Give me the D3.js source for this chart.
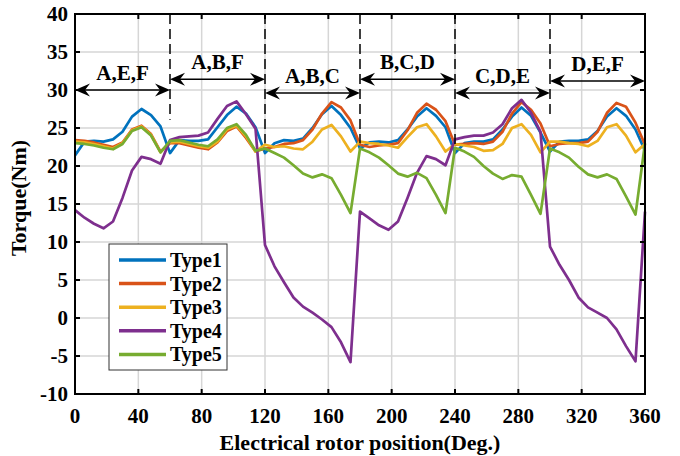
<!DOCTYPE html>
<html>
<head>
<meta charset="utf-8">
<script src="https://cdn.jsdelivr.net/npm/d3@7"></script>
<style>
  html, body { margin: 0; padding: 0; background: #fff; }
  svg { display: block; font-family: "Liberation Serif", "Times New Roman", serif; font-weight: bold; }
</style>
</head>
<body>
<svg id="chart" width="680" height="456"></svg>
<script>
// Rotor position samples (electrical degrees)
const angles = [0, 6, 12, 18, 24, 30, 36, 42, 48, 54, 60, 66, 72, 78, 84, 90, 96, 102, 108, 114, 120,
  126, 132, 138, 144, 150, 156, 162, 168, 174, 180, 186, 192, 198, 204, 210, 216, 222, 228, 234, 240,
  246, 252, 258, 264, 270, 276, 282, 288, 294, 300, 306, 312, 318, 324, 330, 336, 342, 348, 354, 360];

// Torque (Nm) of each winding configuration
const type1 = [21.4, 23.2, 23.3, 23.2, 23.5, 24.5, 26.5, 27.5, 26.7, 25.2, 21.7,
  23.4, 23.3, 23.3, 23.5, 25.1, 26.7, 27.8, 26.9, 25.1, 21.7,
  23.0, 23.4, 23.3, 23.6, 25.0, 26.8, 27.9, 26.7, 25.0, 22.3,
  23.1, 23.2, 23.1, 23.4, 24.8, 26.5, 27.6, 26.6, 25.1, 21.7,
  23.0, 23.2, 23.2, 23.5, 24.8, 26.5, 27.7, 26.6, 24.4, 21.9,
  23.2, 23.3, 23.3, 23.5, 24.6, 26.5, 27.6, 26.6, 24.8, 22.0];
const type2 = [23.4, 23.3, 23.1, 22.8, 22.5, 23.1, 24.8, 25.3, 24.2, 21.9, 23.0,
  23.0, 22.7, 22.4, 22.2, 23.1, 24.6, 25.2, 23.7, 21.9, 22.3,
  22.5, 22.9, 23.0, 23.4, 24.8, 26.9, 28.4, 27.7, 26.0, 22.8,
  22.5, 22.7, 22.8, 23.0, 24.7, 27.0, 28.2, 27.4, 25.9, 22.8,
  22.9, 23.0, 22.9, 23.2, 24.5, 26.9, 28.4, 27.4, 25.6, 22.6,
  22.9, 23.0, 23.0, 23.2, 24.5, 27.0, 28.3, 27.8, 25.7, 22.8];
const type3 = [23.2, 23.1, 22.9, 22.6, 22.3, 23.0, 24.7, 25.2, 24.1, 21.8, 23.1,
  23.2, 22.9, 22.6, 22.4, 23.2, 24.8, 25.3, 23.9, 21.9, 22.8,
  22.5, 22.6, 22.3, 22.2, 23.2, 24.8, 25.4, 23.9, 21.9, 23.2,
  23.0, 22.9, 22.7, 22.4, 23.8, 25.1, 25.5, 23.9, 21.9, 22.9,
  22.7, 22.5, 22.0, 22.1, 22.9, 25.0, 25.5, 24.1, 21.8, 23.2,
  23.2, 23.0, 22.9, 22.6, 23.3, 25.1, 25.5, 24.0, 21.8, 22.9];
const type4 = [14.2, 13.2, 12.4, 11.8, 12.7, 15.8, 19.4, 21.2, 20.9, 20.3, 23.4,
  23.8, 23.9, 24.0, 24.4, 26.2, 27.9, 28.5, 26.8, 24.9, 9.6,
  6.8, 4.7, 2.7, 1.5, 0.7, -0.2, -1.2, -3.2, -5.8, 14.0,
  13.1, 12.2, 11.6, 12.7, 15.8, 19.1, 21.3, 20.9, 20.1, 23.5,
  23.8, 24.0, 24.0, 24.4, 25.5, 27.6, 28.7, 27.0, 24.5, 9.4,
  7.0, 5.0, 2.7, 1.4, 0.7, 0.0, -1.5, -3.7, -5.7, 14.0];
const type5 = [23.0, 22.9, 22.7, 22.4, 22.2, 22.9, 24.6, 25.1, 24.0, 21.8, 23.3,
  23.4, 23.1, 22.8, 22.6, 23.5, 25.0, 25.5, 24.1, 22.0, 22.3,
  21.7, 21.1, 20.1, 19.0, 18.5, 18.9, 18.4, 16.2, 13.8, 22.3,
  21.8, 21.1, 20.1, 19.0, 18.6, 19.1, 18.4, 16.2, 13.8, 22.4,
  21.9, 21.2, 20.0, 19.0, 18.3, 18.8, 18.6, 16.2, 13.7, 22.3,
  21.8, 21.1, 19.9, 18.9, 18.5, 18.9, 18.3, 16.0, 13.6, 23.0];

const seriesNames = ["Type1", "Type2", "Type3", "Type4", "Type5"];
const seriesColors = ["#0072BD", "#D95319", "#EDB120", "#7E2F8E", "#77AC30"];
const seriesValues = [type1, type2, type3, type4, type5];

// Conduction intervals: active phases, angular span, arrow height and the
// torque level where each dashed boundary stops
const phaseLabels = ["A,E,F", "A,B,F", "A,B,C", "B,C,D", "C,D,E", "D,E,F"];
const phaseStart = [0, 60, 120, 180, 240, 300];
const phaseEnd = [60, 120, 180, 240, 300, 360];
const arrowLevel = [30.0, 31.4, 29.6, 31.4, 29.6, 31.2];
const boundaryAngles = [60, 120, 180, 240, 300];
const boundaryStop = [26.1, 23.0, 23.0, 22.6, 26.3];

const xTicks = [0, 40, 80, 120, 160, 200, 240, 280, 320, 360];
const yTicks = [-10, -5, 0, 5, 10, 15, 20, 25, 30, 35, 40];

const svg = d3.select("#chart");
const margin = { left: 75, right: 35, top: 14, bottom: 62 };
const W = 680, H = 456;
const x = d3.scaleLinear().domain([0, 360]).range([margin.left, W - margin.right]);
const y = d3.scaleLinear().domain([-10, 40]).range([H - margin.bottom, margin.top]);

// grid
const grid = svg.append("g").attr("stroke", "#d6d6d6").attr("stroke-width", 1.5);
xTicks.slice(1, -1).forEach(t => grid.append("line")
  .attr("x1", x(t)).attr("x2", x(t)).attr("y1", y(-10)).attr("y2", y(40)));
yTicks.slice(1, -1).forEach(t => grid.append("line")
  .attr("x1", x(0)).attr("x2", x(360)).attr("y1", y(t)).attr("y2", y(t)));

// torque curves
const line = d3.line().x((d, i) => x(angles[i])).y(d => y(d));
seriesValues.forEach((vals, k) => {
  svg.append("path").datum(vals)
    .attr("d", line)
    .attr("fill", "none")
    .attr("stroke", seriesColors[k])
    .attr("stroke-width", 2.7)
    .attr("stroke-linejoin", "round");
});

// dashed interval boundaries
boundaryAngles.forEach((a, i) => {
  svg.append("line")
    .attr("x1", x(a)).attr("x2", x(a))
    .attr("y1", y(40)).attr("y2", y(boundaryStop[i]))
    .attr("stroke", "#000").attr("stroke-width", 1.5)
    .attr("stroke-dasharray", "10,5");
});

// double-headed arrows with labels
const head = "M0,0 L-15,-6.5 L-10,0 L-15,6.5 Z";
phaseLabels.forEach((lab, i) => {
  const x0 = x(phaseStart[i]), x1 = x(phaseEnd[i]), yy = y(arrowLevel[i]);
  svg.append("line").attr("x1", x0 + 4).attr("x2", x1 - 4).attr("y1", yy).attr("y2", yy)
    .attr("stroke", "#000").attr("stroke-width", 1.5);
  svg.append("path").attr("d", head).attr("transform", `translate(${x1},${yy})`).attr("fill", "#000");
  svg.append("path").attr("d", head).attr("transform", `translate(${x0},${yy}) rotate(180)`).attr("fill", "#000");
  svg.append("text").attr("x", (x0 + x1) / 2).attr("y", yy - 10)
    .attr("text-anchor", "middle").attr("font-size", 21).text(lab);
});

// axes (box with inward ticks)
const axisG = svg.append("g");
axisG.append("rect").attr("x", x(0)).attr("y", y(40))
  .attr("width", x(360) - x(0)).attr("height", y(-10) - y(40))
  .attr("fill", "none").attr("stroke", "#000").attr("stroke-width", 2);
const tl = 5;
xTicks.forEach(t => {
  axisG.append("line").attr("x1", x(t)).attr("x2", x(t)).attr("y1", y(-10)).attr("y2", y(-10) - tl)
    .attr("stroke", "#000").attr("stroke-width", 2);
  axisG.append("line").attr("x1", x(t)).attr("x2", x(t)).attr("y1", y(40)).attr("y2", y(40) + tl)
    .attr("stroke", "#000").attr("stroke-width", 2);
  axisG.append("text").attr("x", x(t)).attr("y", y(-10) + 29)
    .attr("text-anchor", "middle").attr("font-size", 21).text(t);
});
yTicks.forEach(t => {
  axisG.append("line").attr("x1", x(0)).attr("x2", x(0) + tl).attr("y1", y(t)).attr("y2", y(t))
    .attr("stroke", "#000").attr("stroke-width", 2);
  axisG.append("line").attr("x1", x(360)).attr("x2", x(360) - tl).attr("y1", y(t)).attr("y2", y(t))
    .attr("stroke", "#000").attr("stroke-width", 2);
  axisG.append("text").attr("x", x(0) - 7).attr("y", y(t) + 7)
    .attr("text-anchor", "end").attr("font-size", 21).text(t);
});

svg.append("text").attr("x", (x(0) + x(360)) / 2).attr("y", 450)
  .attr("text-anchor", "middle").attr("font-size", 22).text("Electrical rotor position(Deg.)");
svg.append("text").attr("transform", `translate(26,${(y(40) + y(-10)) / 2 - 6}) rotate(-90)`)
  .attr("text-anchor", "middle").attr("font-size", 22).text("Torque(Nm)");

// legend
const lg = svg.append("g").attr("transform", "translate(109,244)");
lg.append("rect").attr("width", 118).attr("height", 126)
  .attr("fill", "#fff").attr("stroke", "#333").attr("stroke-width", 1);
seriesNames.forEach((n, i) => {
  const ry = 16 + i * 23.6;
  lg.append("line").attr("x1", 10).attr("x2", 57).attr("y1", ry).attr("y2", ry)
    .attr("stroke", seriesColors[i]).attr("stroke-width", 3.5);
  lg.append("text").attr("x", 61).attr("y", ry + 7).attr("font-size", 20).text(n);
});
</script>
</body>
</html>
